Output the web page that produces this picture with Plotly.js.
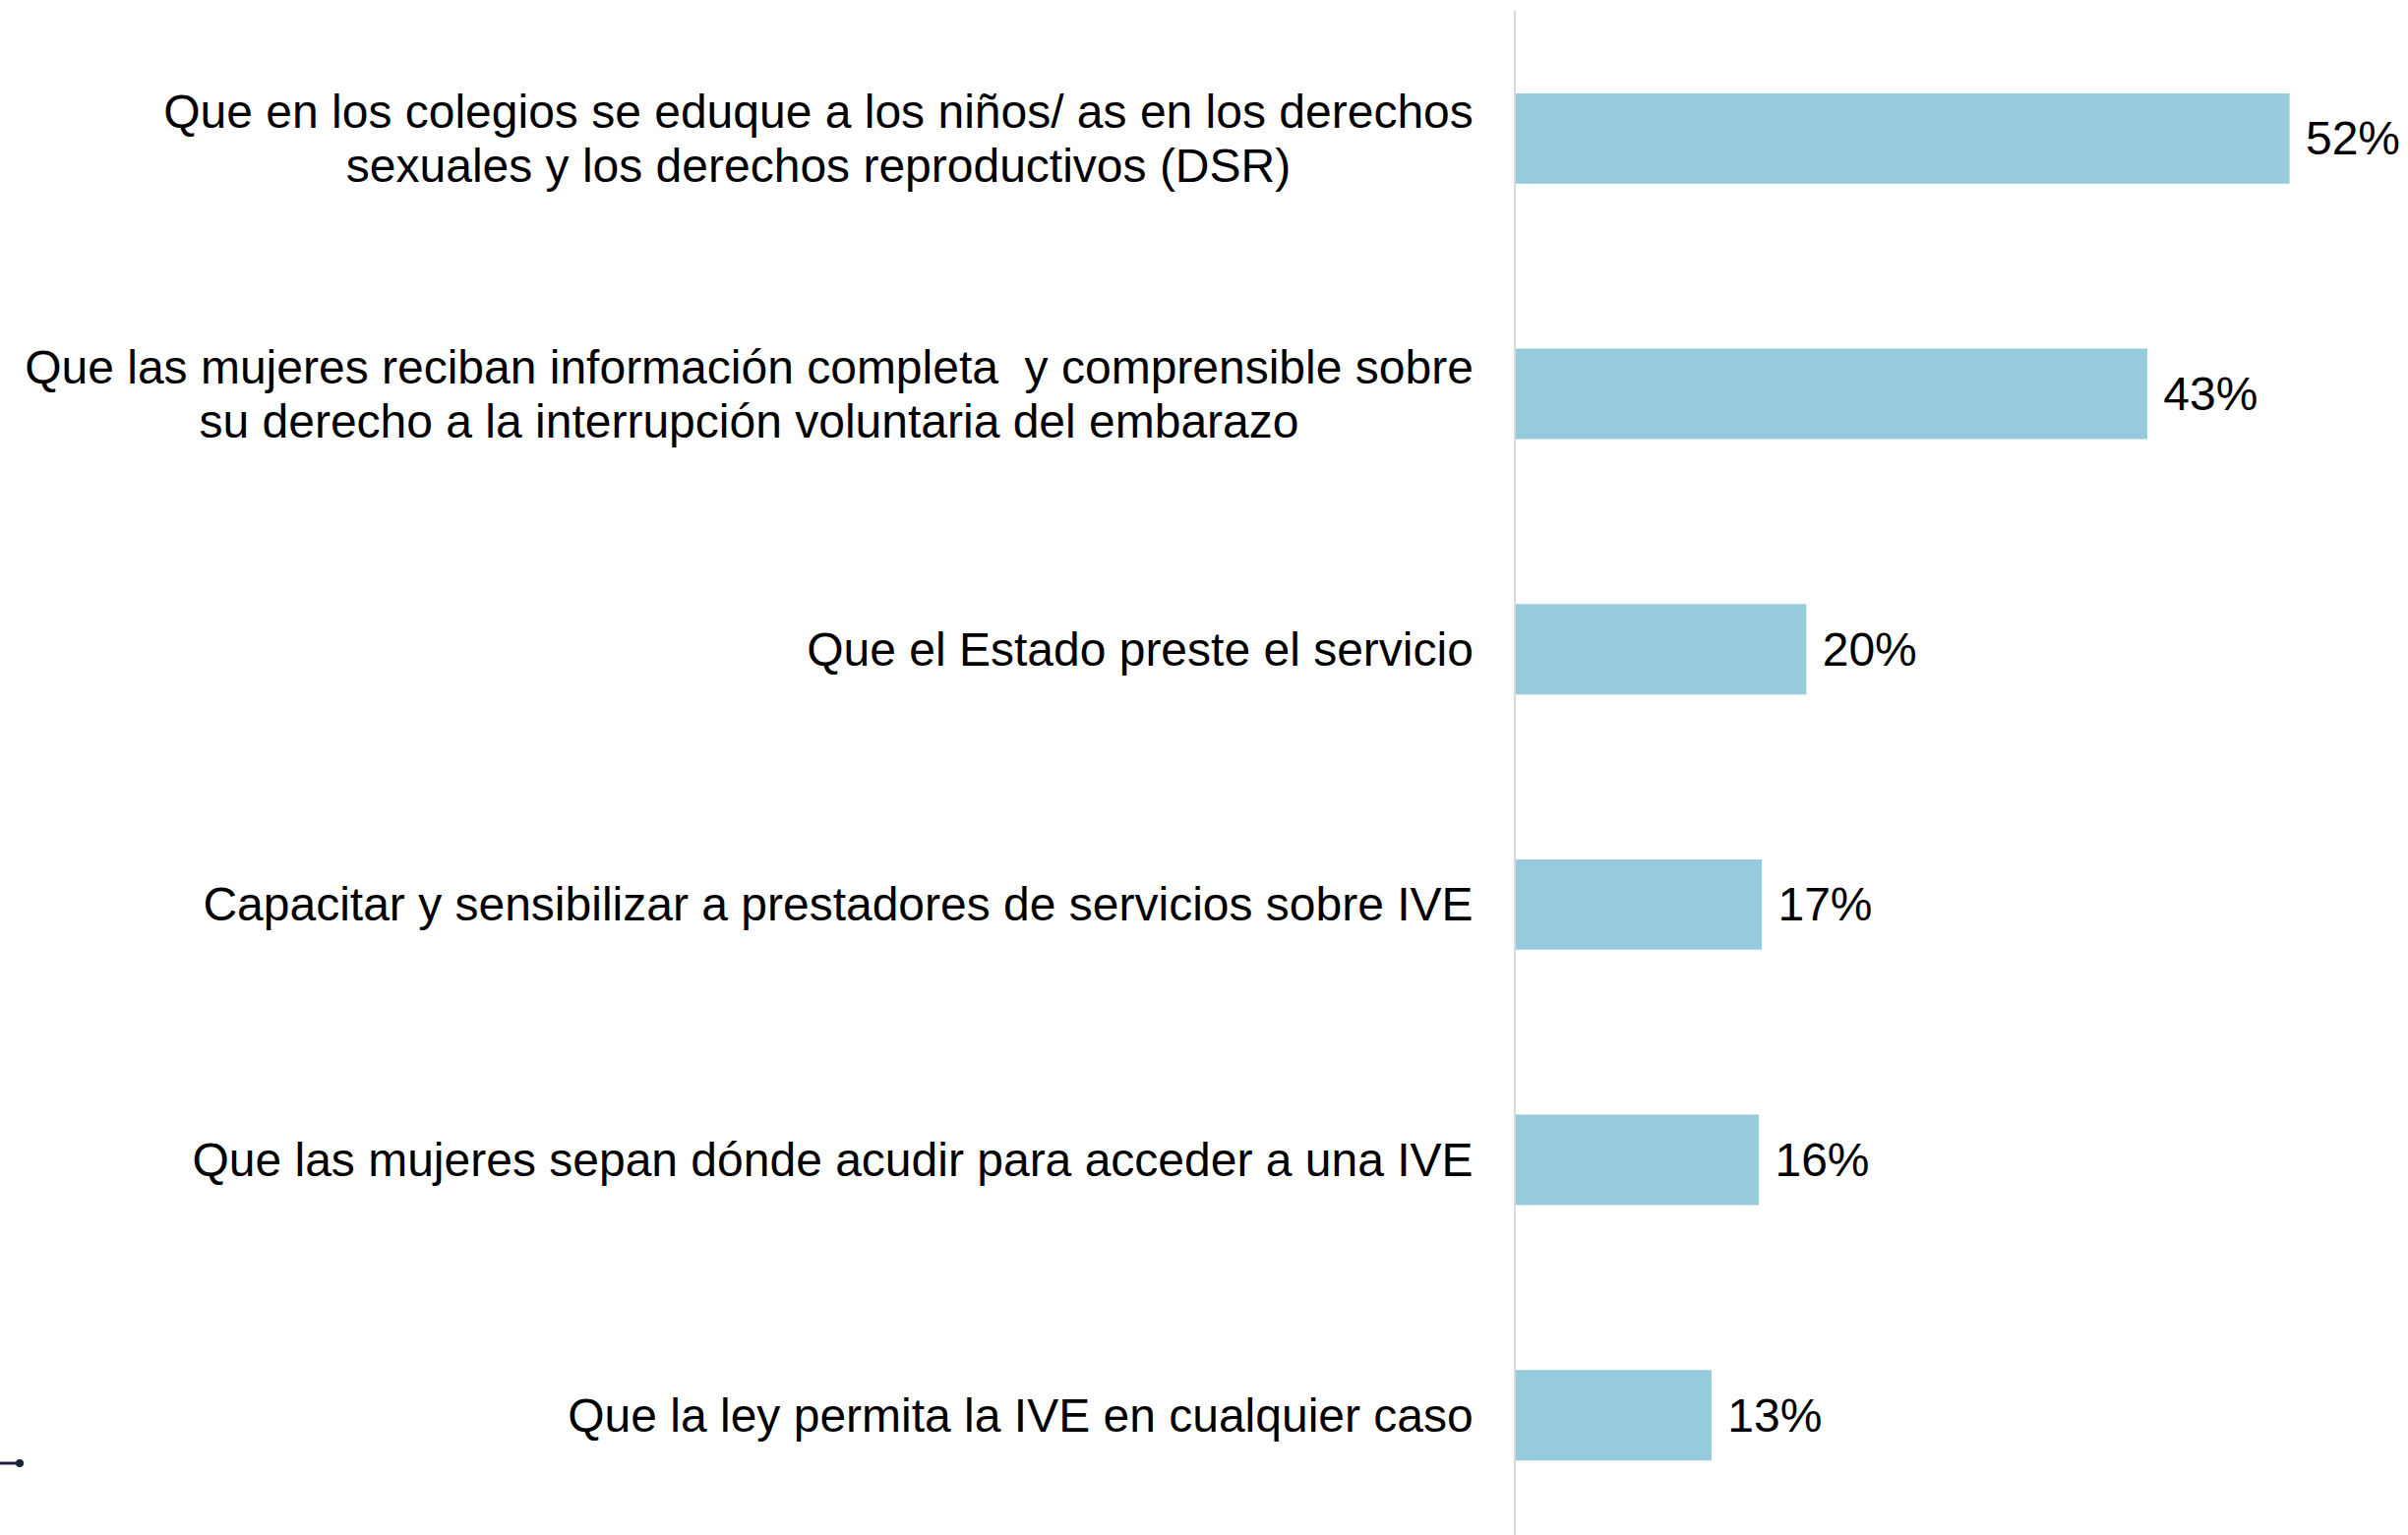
<!DOCTYPE html>
<html>
<head>
<meta charset="utf-8">
<script src="https://cdn.plot.ly/plotly-3.0.1.min.js"></script>
<style>html,body{margin:0;padding:0;background:#fff;}#chart{width:2448px;height:1561px;}</style>
</head>
<body>
<div id="chart"></div>
<script>
const categories = [
  "Que en los colegios se eduque a los niños/ as en los derechos<br>sexuales y los derechos reproductivos (DSR)",
  "Que las mujeres reciban información completa\u00a0 y comprensible sobre<br>su derecho a la interrupción voluntaria del embarazo",
  "Que el Estado preste el servicio",
  "Capacitar y sensibilizar a prestadores de servicios sobre IVE",
  "Que las mujeres sepan dónde acudir para acceder a una IVE",
  "Que la ley permita la IVE en cualquier caso"
];
const values = [52.2, 42.6, 19.6, 16.6, 16.4, 13.2];
const valueLabels = ["52%", "43%", "20%", "17%", "16%", "13%"];

const FONT = "Liberation Sans, Arial, Helvetica, sans-serif";
const FONT_SIZE = 48;
const LINE_GAP = 55;
const idx = categories.map((c, i) => i);

const ctx = document.createElement('canvas').getContext('2d');
ctx.font = FONT_SIZE + 'px "Liberation Sans", Arial, sans-serif';
function textWidth(s) { return ctx.measureText(s).width; }

const trace = {
  type: 'bar',
  orientation: 'h',
  y: idx,
  x: values,
  text: valueLabels,
  texttemplate: '\u00a0%{text}',
  textposition: 'outside',
  cliponaxis: false,
  constraintext: 'none',
  textfont: {family: FONT, size: FONT_SIZE, color: '#000000'},
  marker: {color: '#95cbdc', line: {width: 0}},
  hoverinfo: 'skip'
};

const annotations = [];
categories.forEach((c, i) => {
  const lines = c.split('<br>');
  const w = Math.max(...lines.map(textWidth));
  lines.forEach((ln, k) => {
    annotations.push({
      xref: 'paper', yref: 'y',
      x: 0, y: i,
      xanchor: 'right', yanchor: 'middle',
      xshift: -40,
      yshift: ((lines.length - 1) / 2 - k) * LINE_GAP,
      width: Math.ceil(w) + 2,
      align: 'center',
      showarrow: false,
      text: ln,
      font: {family: FONT, size: FONT_SIZE, color: '#000000'}
    });
  });
});

const layout = {
  width: 2448, height: 1561,
  margin: {l: 1541, r: 0, t: 11, b: 0, pad: 0},
  paper_bgcolor: '#ffffff', plot_bgcolor: '#ffffff',
  showlegend: false,
  bargap: 0.646,
  xaxis: {range: [0, 60.19], showgrid: false, zeroline: false, showticklabels: false, showline: false, ticks: ''},
  yaxis: {range: [5.469, -0.5], showgrid: false, zeroline: false, showticklabels: false,
          showline: true, linecolor: '#d9d9d9', linewidth: 2, ticks: ''},
  annotations: annotations,
  shapes: [
    {type: 'line', xref: 'paper', yref: 'paper', x0: -1.6990, x1: -1.6770, y0: 0.0471, y1: 0.0471,
     line: {color: '#1b2340', width: 3}},
    {type: 'circle', xref: 'paper', yref: 'paper', x0: -1.6814, x1: -1.6725, y0: 0.0445, y1: 0.0497,
     fillcolor: '#1b2340', line: {color: '#1b2340', width: 0}}
  ]
};

Plotly.newPlot('chart', [trace], layout, {displayModeBar: false, staticPlot: true});
</script>
</body>
</html>
